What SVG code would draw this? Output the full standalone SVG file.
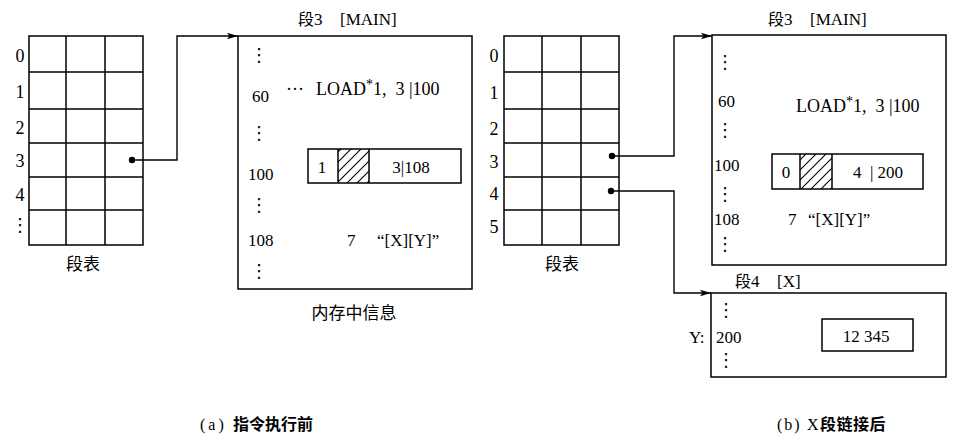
<svg xmlns="http://www.w3.org/2000/svg" width="960" height="441" viewBox="0 0 960 441">
<style>
.ln{fill:none;stroke:#000;stroke-width:1.5}
.cn{fill:none;stroke:#000;stroke-width:1.4}
.t{font-family:"Liberation Serif","Times New Roman","DejaVu Serif",serif;font-size:17px;fill:#000}
.L{font-size:18px}
.n{font-family:"Liberation Serif","Times New Roman","DejaVu Serif",serif;font-size:18px;fill:#000}
.k{font-family:"Noto Sans CJK SC",sans-serif}
.c{font-family:"Noto Sans CJK SC","Liberation Sans",sans-serif;font-size:17px;fill:#000}
.v{font-family:"DejaVu Serif","DejaVu Sans",serif;font-size:18px;fill:#000}
.cap{font-family:"Liberation Serif","Times New Roman","DejaVu Serif",serif;font-size:16px;fill:#000}
.capc{font-family:"Noto Sans CJK SC",sans-serif;font-size:16px;font-weight:bold;fill:#000}
</style>
<defs>
<marker id="arr" markerWidth="12" markerHeight="8" refX="11" refY="4" orient="auto" markerUnits="userSpaceOnUse">
<path d="M0,0.8 L11,4 L0,7.2 L2.5,4 Z" fill="#000"/>
</marker>
<pattern id="hatch" patternUnits="userSpaceOnUse" width="10" height="10">
<path d="M0,10 L10,0 M-2,2 L2,-2 M8,12 L12,8" stroke="#000" stroke-width="1.1"/>
</pattern>
</defs>

<!-- (a) segment table -->
<g id="segtable-a">
<rect class="ln" x="29" y="36" width="114" height="209"/>
<path class="ln" d="M66,36 V245 M105,36 V245 M29,72 H143 M29,109 H143 M29,143 H143 M29,177 H143 M29,210 H143"/>
<text class="n" x="20" y="62" text-anchor="middle">0</text>
<text class="n" x="20" y="98" text-anchor="middle">1</text>
<text class="n" x="20" y="134" text-anchor="middle">2</text>
<text class="n" x="20" y="167" text-anchor="middle">3</text>
<text class="n" x="20" y="201" text-anchor="middle">4</text>
<text class="v" x="20" y="231" text-anchor="middle">⋮</text>
<text class="c" x="83" y="270" text-anchor="middle">段表</text>
</g>

<!-- (a) segment 3 MAIN -->
<g id="seg3-a">
<text class="t" x="298" y="25"><tspan class="k" font-size="16">段</tspan>3<tspan x="340">[MAIN]</tspan></text>
<rect class="ln" x="238" y="36" width="234" height="253"/>
<text class="v" x="259" y="61" text-anchor="middle">⋮</text>
<text class="t" x="252" y="102">60</text>
<text class="t L" x="286" y="95">···<tspan x="316">LOAD</tspan><tspan dy="-6" font-size="14">*</tspan><tspan dy="6">1,&#160;&#160;3 |100</tspan></text>
<text class="v" x="259" y="139" text-anchor="middle">⋮</text>
<text class="t" x="248" y="180">100</text>
<text class="v" x="259" y="211" text-anchor="middle">⋮</text>
<text class="t" x="248" y="246">108</text>
<text class="t" x="347" y="246">7</text>
<text class="t" x="377" y="246">“[X][Y]”</text>
<text class="v" x="259" y="277" text-anchor="middle">⋮</text>
<text class="c" x="354" y="319" text-anchor="middle">内存中信息</text>
</g>

<g id="instr-a">
<rect x="338" y="149" width="31" height="34" fill="url(#hatch)"/>
<rect class="ln" x="308" y="149" width="153" height="34"/>
<path class="ln" d="M338,149 V183 M369,149 V183"/>
<text class="t" x="322" y="173" text-anchor="middle">1</text>
<text class="t" x="411" y="173" text-anchor="middle">3|108</text>
</g>

<!-- (b) segment table -->
<g id="segtable-b">
<rect class="ln" x="504" y="36" width="115" height="209"/>
<path class="ln" d="M542,36 V245 M581,36 V245 M504,72 H619 M504,109 H619 M504,143 H619 M504,177 H619 M504,210 H619"/>
<text class="n" x="494" y="62" text-anchor="middle">0</text>
<text class="n" x="494" y="99" text-anchor="middle">1</text>
<text class="n" x="494" y="135" text-anchor="middle">2</text>
<text class="n" x="494" y="168" text-anchor="middle">3</text>
<text class="n" x="494" y="200" text-anchor="middle">4</text>
<text class="n" x="494" y="233" text-anchor="middle">5</text>
<text class="c" x="562" y="270" text-anchor="middle">段表</text>
</g>

<!-- (b) segment 3 MAIN -->
<g id="seg3-b">
<text class="t" x="768" y="25"><tspan class="k" font-size="16">段</tspan>3<tspan x="810">[MAIN]</tspan></text>
<rect class="ln" x="712" y="35" width="234" height="230"/>
<text class="v" x="725" y="68" text-anchor="middle">⋮</text>
<text class="t" x="718" y="107">60</text>
<text class="t L" x="796" y="112">LOAD<tspan dy="-6" font-size="14">*</tspan><tspan dy="6">1,&#160;&#160;3 |100</tspan></text>
<text class="v" x="725" y="136" text-anchor="middle">⋮</text>
<text class="t" x="714" y="171">100</text>
<text class="v" x="725" y="200" text-anchor="middle">⋮</text>
<text class="t" x="714" y="225">108</text>
<text class="t" x="788" y="225">7</text>
<text class="t" x="808" y="225">“[X][Y]”</text>
<text class="v" x="725" y="250" text-anchor="middle">⋮</text>
</g>

<g id="instr-b">
<rect x="800" y="154" width="32" height="35" fill="url(#hatch)"/>
<rect class="ln" x="772" y="154" width="151" height="35"/>
<path class="ln" d="M800,154 V189 M832,154 V189"/>
<text class="t" x="786" y="178" text-anchor="middle">0</text>
<text class="t" x="878" y="178" text-anchor="middle">4&#160;&#160;| 200</text>
</g>

<!-- (b) segment 4 X -->
<g id="seg4-b">
<text class="t" x="735" y="287"><tspan class="k" font-size="16">段</tspan>4<tspan x="777">[X]</tspan></text>
<rect class="ln" x="711" y="293" width="235" height="84"/>
<text class="v" x="726" y="316" text-anchor="middle">⋮</text>
<text class="t" x="689" y="343">Y:</text>
<text class="t" x="716" y="343">200</text>
<text class="v" x="726" y="366" text-anchor="middle">⋮</text>
<rect class="ln" x="822" y="319" width="91" height="32"/>
<text class="t" x="866" y="342" text-anchor="middle">12 345</text>
</g>

<!-- connectors -->
<g id="connectors">
<circle cx="132" cy="160" r="3.2" fill="#000"/>
<path class="cn" d="M132,160 H177 V36 H238" marker-end="url(#arr)"/>
<circle cx="612" cy="156" r="3.2" fill="#000"/>
<path class="cn" d="M612,156 H674 V36 H712" marker-end="url(#arr)"/>
<circle cx="611" cy="191" r="3.2" fill="#000"/>
<path class="cn" d="M611,191 H674 V293 H711" marker-end="url(#arr)"/>
</g>

<!-- captions -->
<g id="captions">
<text class="cap" x="200" y="430" letter-spacing="3">(a)<tspan class="capc" x="233" letter-spacing="0">指令执行前</tspan></text>
<text class="cap" x="777" y="430" letter-spacing="2">(b)<tspan x="807" letter-spacing="0">X</tspan><tspan class="capc" x="820" letter-spacing="0.5">段链接后</tspan></text>
</g>
</svg>
